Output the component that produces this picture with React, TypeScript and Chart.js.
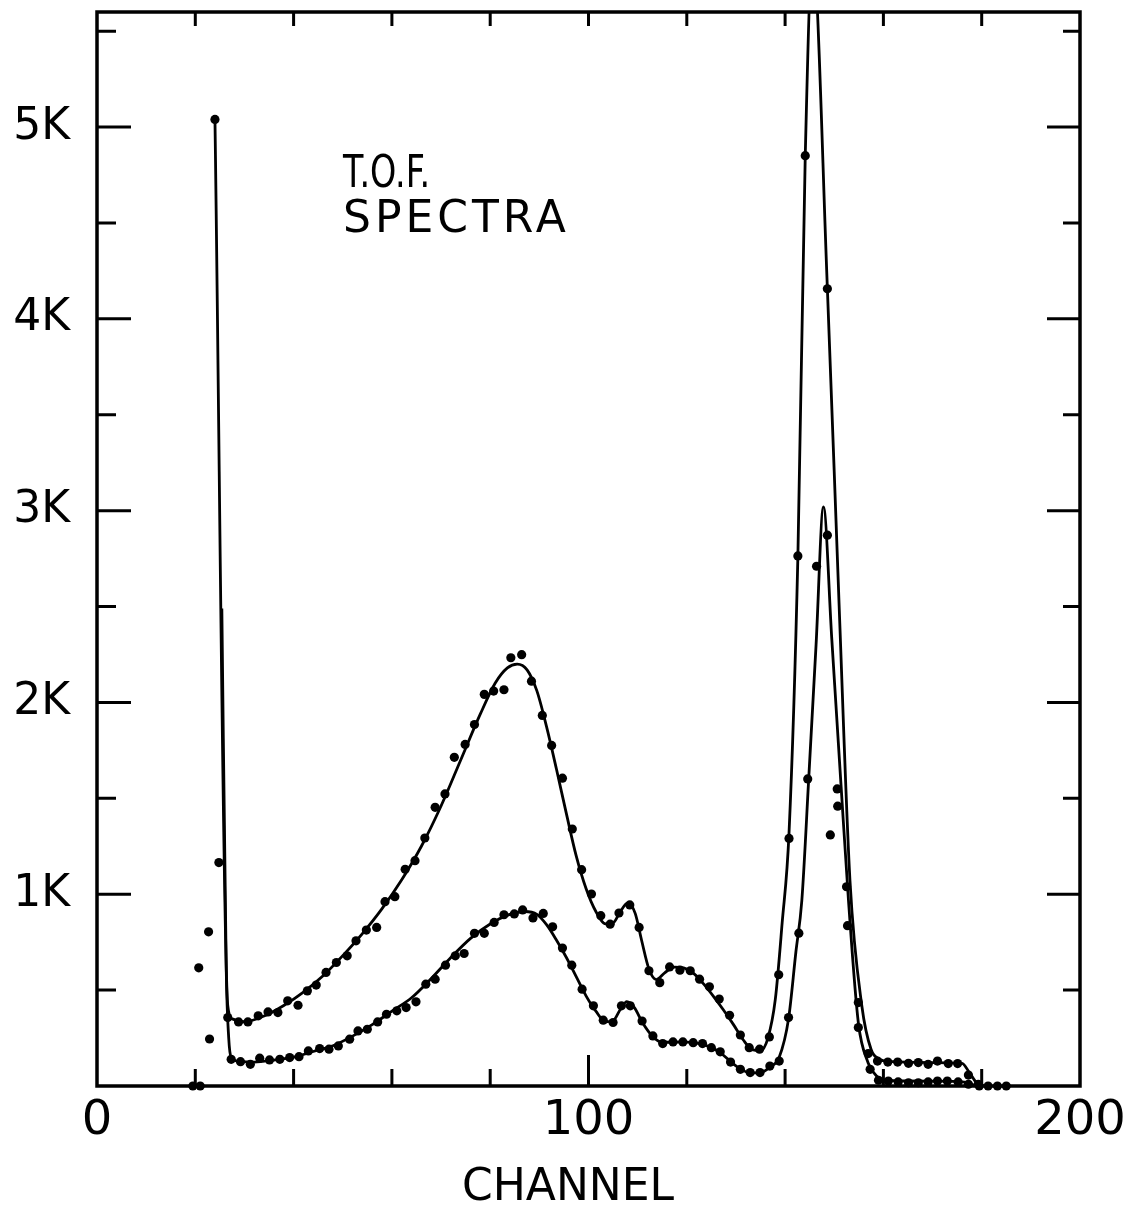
import React, { useEffect, useRef } from 'react';
import { Chart, registerables } from 'chart.js';

Chart.register(...registerables);

// ---- axis / tick definitions ----
const xLabelValues = [0, 100, 200];
const xTickLabels = ['0', '100', '200'];
const xTickValues = [20, 40, 60, 80, 100, 120, 140, 160, 180];
const xLongTickValues = [100];
const yLabelValues = [1000, 2000, 3000, 4000, 5000];
const yTickLabels = ['1K', '2K', '3K', '4K', '5K'];
const yMinorTickValues = [500, 1500, 2500, 3500, 4500, 5500];
const xTitle = 'CHANNEL';
const annotationLines = ['T.O.F.', 'SPECTRA'];

// ---- measured points (upper spectrum) ----
const upperChannels = [
  20.7, 22.7, 24.0, 24.8, 26.6, 28.8, 30.7, 32.8, 34.8, 36.8, 38.8, 40.9, 42.8, 44.6, 46.6, 48.7,
  50.9, 52.7, 54.8, 56.9, 58.6, 60.6, 62.7, 64.7, 66.7, 68.8, 70.8, 72.7, 74.9, 76.8, 78.8, 80.7,
  82.8, 84.2, 86.4, 88.4, 90.6, 92.5, 94.7, 96.7, 98.6, 100.6, 102.5, 104.4, 106.2, 108.4, 110.3,
  112.3, 114.5, 116.5, 118.6, 120.7, 122.6, 124.6, 126.6, 128.7, 130.9, 132.7, 134.8, 136.8, 138.7,
  140.8, 142.6, 144.1, 148.6, 150.6, 152.5, 154.9, 156.9, 158.8, 160.9, 162.9, 165.1, 167.1, 169.1,
  171.0, 173.2, 175.1, 177.3, 179.3, 181.3, 183.2,
];
const upperCounts = [
  616, 804, 5040, 1165, 357, 334, 334, 366, 386, 383, 444, 421, 496, 526, 592, 644,
  679, 757, 813, 827, 961, 987, 1130, 1175, 1293, 1453, 1523, 1714, 1781, 1885, 2042, 2059,
  2066, 2233, 2249, 2111, 1932, 1776, 1605, 1340, 1128, 1001, 888, 844, 902, 944, 827,
  601, 539, 621, 604, 601, 557, 517, 453, 369, 266, 200, 192, 256, 580,
  1291, 2764, 4851, 4157, 1549, 1039, 435, 169, 130, 125, 125, 118, 122, 113,
  130, 117, 117, 57, 9, 0, 0,
];

// ---- measured points (lower spectrum) ----
const lowerChannels = [
  19.5, 21.0, 22.9, 27.3, 29.2, 31.2, 33.1, 35.1, 37.2, 39.2, 41.1, 43.0, 45.3, 47.2, 49.1, 51.4,
  53.1, 55.0, 57.1, 58.9, 61.0, 62.9, 64.9, 66.9, 68.8, 70.9, 72.9, 74.7, 76.8, 78.8, 80.8, 82.8,
  84.9, 86.6, 88.7, 90.8, 92.7, 94.7, 96.6, 98.7, 101.0, 103.0, 105.0, 106.7, 108.5, 110.9, 113.1,
  115.1, 117.2, 119.2, 121.3, 123.2, 125.0, 126.8, 128.9, 130.9, 132.9, 134.9, 136.9, 138.8, 140.7,
  142.8, 144.6, 146.4, 148.6, 149.2, 150.7, 152.7, 154.9, 157.3, 159.0, 161.0, 163.0, 165.1, 167.1,
  169.1, 171.0, 173.0, 175.2, 177.3, 179.5, 185.0,
];
const lowerCounts = [
  0, 0, 245, 139, 127, 113, 145, 136, 139, 148, 153, 183, 195, 192, 209, 244,
  287, 296, 334, 374, 392, 409, 439, 531, 557, 630, 679, 691, 796, 796, 853, 893,
  897, 918, 876, 900, 830, 719, 630, 505, 418, 343, 331, 418, 418, 339, 261,
  221, 230, 230, 226, 221, 200, 178, 125, 87, 70, 70, 104, 130, 357,
  797, 1601, 2710, 2872, 1309, 1459, 836, 305, 87, 30, 26, 21, 17, 17,
  21, 26, 26, 21, 9, 0, 0,
];

// ---- fitted curves ----
const upperFitChannels = [
  24.0, 26.6, 27.5, 30, 34, 38, 42, 46, 50, 54, 58, 62, 66, 70, 74, 78, 81, 83.5, 85.5, 87.5,
  89.5, 91.5, 93.5, 95.5, 97.5, 99.5, 101.5, 103.5, 105, 106.5, 108, 109.5, 110.8, 112.3, 113.8,
  115.5, 117.5, 119.5, 121.5, 123.5, 125.5, 127.5, 129.5, 131.5, 133.3, 135, 136.5, 138, 139.4,
  140.8, 142.6, 144.1, 145.6, 148.6, 151, 153.2, 155.6, 157.5, 159.2, 161, 170, 176, 177.5, 179, 180.5,
];
const upperFitCounts = [
  5040, 420, 350, 335, 365, 420, 490, 575, 680, 795, 925, 1075, 1250, 1460, 1700, 1940, 2100, 2180, 2200, 2170,
  2060, 1870, 1650, 1420, 1200, 1030, 910, 845, 850, 910, 955, 900, 760, 610, 555,
  590, 620, 615, 585, 530, 465, 395, 320, 240, 190, 185, 250, 450, 850,
  1320, 2760, 4850, 5900, 4160, 2500, 1070, 420, 190, 140, 128, 122, 118, 70, 15, 0,
];
const lowerFitChannels = [
  25.4, 26.3, 26.8, 27.3, 29, 32, 36, 40, 44, 48, 52, 56, 60, 64, 68, 72, 76, 80, 84, 87,
  89.5, 91.5, 93.5, 95.5, 97.5, 99.5, 101.5, 103.5, 105, 106.5, 107.8, 109.3, 111, 113, 115,
  117, 119, 121, 123, 125, 127, 129, 131, 133, 135, 137, 138.8, 140.7, 142.2, 143.4, 144.8,
  146.3, 147.8, 149.5, 151.4, 152.9, 154.9, 156.9, 158.5, 160.5, 170, 176.5, 178.5, 180,
];
const lowerFitCounts = [
  2490, 600, 250, 150, 128, 125, 135, 150, 180, 210, 260, 320, 390, 460, 560, 670, 770, 845, 895, 910,
  895, 840, 760, 670, 570, 470, 390, 335, 340, 400, 440, 410, 330, 260, 228,
  228, 230, 227, 218, 200, 170, 125, 88, 68, 70, 100, 150, 350, 700, 966, 1600,
  2300, 3020, 2330, 1560, 966, 330, 120, 55, 30, 25, 20, 5, 0,
];

const toPoints = (xs: number[], ys: number[]) => xs.map((x, i) => ({ x, y: ys[i] }));

const FONT = '"DejaVu Sans", "Liberation Sans", sans-serif';

export default function App() {
  const ref = useRef<HTMLCanvasElement>(null);

  useEffect(() => {
    if (!ref.current) return;

    const framePlugin = {
      id: 'framePlugin',
      afterDraw(chart: any) {
        const ctx = chart.ctx as CanvasRenderingContext2D;
        const { left, right, top, bottom } = chart.chartArea;
        const xs = chart.scales.x;
        const ys = chart.scales.y;
        ctx.save();
        ctx.strokeStyle = '#000';
        ctx.fillStyle = '#000';
        ctx.lineWidth = 3.5;
        ctx.lineCap = 'butt';
        ctx.strokeRect(left, top, right - left, bottom - top);

        ctx.lineWidth = 3;
        // y ticks (inward, both sides)
        const drawY = (v: number, lenL: number, lenR: number) => {
          const py = ys.getPixelForValue(v);
          ctx.beginPath();
          ctx.moveTo(left, py);
          ctx.lineTo(left + lenL, py);
          ctx.moveTo(right, py);
          ctx.lineTo(right - lenR, py);
          ctx.stroke();
        };
        yLabelValues.forEach((v) => drawY(v, 34, 33));
        yMinorTickValues.forEach((v) => drawY(v, 19, 17));

        // x ticks (inward, top and bottom)
        xTickValues.forEach((v) => {
          const px = xs.getPixelForValue(v);
          const lb = xLongTickValues.includes(v) ? 31 : 17;
          ctx.beginPath();
          ctx.moveTo(px, bottom);
          ctx.lineTo(px, bottom - lb);
          ctx.moveTo(px, top);
          ctx.lineTo(px, top + 14);
          ctx.stroke();
        });

        // annotation text
        ctx.textAlign = 'left';
        ctx.textBaseline = 'alphabetic';
        ctx.save();
        ctx.translate(343, 187);
        ctx.scale(0.76, 1);
        ctx.font = `44px ${FONT}`;
        (ctx as any).letterSpacing = '0px';
        ctx.fillText(annotationLines[0], 0, 0);
        ctx.restore();
        ctx.font = `44px ${FONT}`;
        (ctx as any).letterSpacing = '4px';
        ctx.fillText(annotationLines[1], 343, 232);
        (ctx as any).letterSpacing = '0px';

        // axis title
        ctx.textAlign = 'center';
        ctx.font = `44px ${FONT}`;
        ctx.fillText(xTitle, 568, 1200);
        ctx.restore();
      },
    };

    const chart = new Chart(ref.current, {
      type: 'scatter',
      data: {
        datasets: [
          {
            label: 'upper fit',
            data: toPoints(upperFitChannels, upperFitCounts),
            showLine: true,
            borderColor: '#000',
            borderWidth: 2.8,
            pointRadius: 0,
            cubicInterpolationMode: 'monotone',
          },
          {
            label: 'lower fit',
            data: toPoints(lowerFitChannels, lowerFitCounts),
            showLine: true,
            borderColor: '#000',
            borderWidth: 2.8,
            pointRadius: 0,
            cubicInterpolationMode: 'monotone',
          },
          {
            label: 'upper data',
            data: toPoints(upperChannels, upperCounts),
            showLine: false,
            pointRadius: 4.6,
            pointBackgroundColor: '#000',
            pointBorderColor: '#000',
            pointBorderWidth: 0,
            clip: false,
          },
          {
            label: 'lower data',
            data: toPoints(lowerChannels, lowerCounts),
            showLine: false,
            pointRadius: 4.6,
            pointBackgroundColor: '#000',
            pointBorderColor: '#000',
            pointBorderWidth: 0,
            clip: false,
          },
        ] as any,
      },
      options: {
        responsive: false,
        animation: false,
        devicePixelRatio: 1,
        layout: { padding: { left: 0, top: 12, right: 63, bottom: 0 } },
        plugins: { legend: { display: false }, tooltip: { enabled: false } },
        scales: {
          x: {
            type: 'linear',
            min: 0,
            max: 200,
            afterFit: (s: any) => {
              s.height = 122;
              s.paddingLeft = 0;
              s.paddingRight = 0;
            },
            afterBuildTicks: (s: any) => {
              s.ticks = xLabelValues.map((v) => ({ value: v }));
            },
            ticks: {
              autoSkip: false,
              maxRotation: 0,
              padding: 7,
              color: '#000',
              font: { family: FONT, size: 48 },
              callback: (v: any) => xTickLabels[xLabelValues.indexOf(Number(v))] ?? '',
            },
            grid: { display: false, drawTicks: false },
            border: { display: false },
          },
          y: {
            type: 'linear',
            min: 0,
            max: 5600,
            afterFit: (s: any) => {
              s.width = 97;
              s.paddingTop = 0;
              s.paddingBottom = 0;
            },
            afterBuildTicks: (s: any) => {
              s.ticks = yLabelValues.map((v) => ({ value: v }));
            },
            ticks: {
              autoSkip: false,
              padding: 27,
              color: '#000',
              font: { family: FONT, size: 44 },
              callback: (v: any) => yTickLabels[yLabelValues.indexOf(Number(v))] ?? '',
            },
            grid: { display: false, drawTicks: false },
            border: { display: false },
          },
        },
      } as any,
      plugins: [framePlugin],
    });

    return () => chart.destroy();
  }, []);

  return (
    <div style={{ position: 'absolute', left: 0, top: 0, width: 1143, height: 1208, background: '#fff' }}>
      <canvas ref={ref} width={1143} height={1208} style={{ display: 'block' }} />
    </div>
  );
}
